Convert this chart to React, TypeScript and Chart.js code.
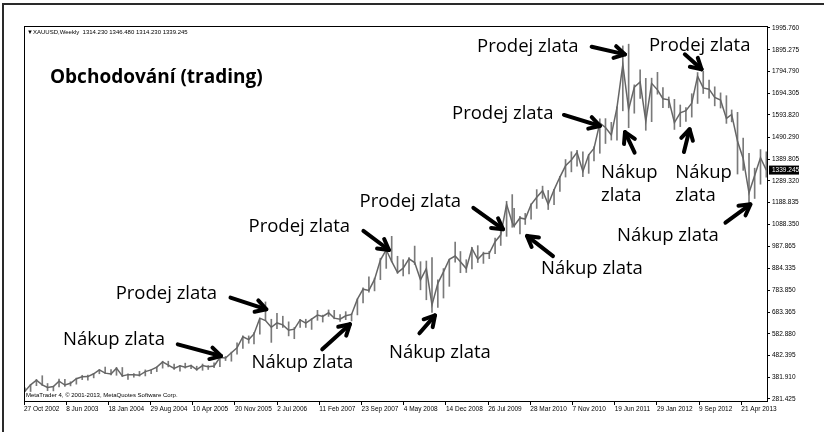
import React, { useEffect, useRef } from 'react';
import { Chart, registerables } from 'chart.js';

Chart.register(...registerables);

// ---------- data (monthly ranges of XAUUSD) ----------
const firstYear = 2002;
const firstMonth = 11; // Nov 2002
const monthCount = 131; // Nov 2002 .. Sep 2013

const highs = [
  333, 349,
  372, 389, 353, 341, 374, 372, 361, 378, 391, 392, 399, 417,
  429, 417, 427, 427, 398, 399, 409, 416, 417, 430, 456, 456,
  443, 437, 447, 438, 433, 443, 436, 449, 474, 478, 498, 541,
  573, 573, 588, 654, 730, 650, 677, 664, 638, 612, 650, 650,
  653, 691, 669, 693, 691, 671, 685, 676, 744, 795, 846, 840,
  932, 976, 1033, 941, 925, 935, 988, 916, 919, 935, 832, 884,
  927, 1007, 963, 925, 982, 990, 960, 964, 1025, 1070, 1195, 1226,
  1162, 1125, 1139, 1183, 1249, 1265, 1245, 1250, 1310, 1388, 1424, 1431,
  1423, 1411, 1447, 1576, 1577, 1560, 1632, 1913, 1921, 1733, 1803, 1763,
  1764, 1791, 1720, 1677, 1666, 1640, 1628, 1692, 1790, 1796, 1755, 1724,
  1696, 1683, 1617, 1606, 1487, 1417, 1348, 1434, 1424,
];

const lows = [
  315, 316,
  343, 344, 320, 319, 337, 340, 342, 350, 371, 368, 379, 398,
  399, 393, 391, 385, 372, 382, 387, 388, 398, 408, 424, 430,
  418, 410, 424, 421, 414, 414, 418, 426, 431, 459, 456, 489,
  515, 539, 536, 581, 643, 543, 606, 612, 573, 560, 612, 612,
  603, 645, 637, 663, 652, 640, 648, 642, 670, 725, 775, 781,
  833, 885, 915, 862, 850, 859, 903, 786, 740, 681, 705, 748,
  802, 914, 865, 866, 882, 912, 908, 930, 953, 991, 1033, 1075,
  1075, 1044, 1088, 1112, 1162, 1208, 1157, 1179, 1241, 1307, 1331, 1357,
  1309, 1324, 1381, 1417, 1462, 1478, 1478, 1613, 1535, 1602, 1670, 1523,
  1563, 1690, 1628, 1627, 1527, 1540, 1564, 1584, 1647, 1693, 1672, 1636,
  1626, 1555, 1562, 1321, 1338, 1180, 1208, 1274, 1306,
];

const closes = [
  317, 347,
  368, 347, 335, 339, 364, 346, 354, 375, 384, 385, 398, 416,
  401, 397, 424, 388, 394, 394, 391, 408, 416, 429, 453, 438,
  423, 435, 428, 436, 417, 436, 430, 434, 473, 471, 495, 518,
  569, 556, 582, 655, 644, 613, 633, 624, 599, 604, 647, 632,
  650, 669, 663, 680, 655, 650, 666, 672, 743, 789, 783, 834,
  923, 971, 917, 866, 886, 929, 912, 832, 884, 716, 816, 869,
  927, 942, 916, 884, 977, 927, 954, 955, 1008, 1040, 1181, 1096,
  1081, 1118, 1113, 1180, 1214, 1244, 1181, 1248, 1307, 1359, 1386, 1421,
  1333, 1410, 1439, 1556, 1536, 1501, 1628, 1826, 1620, 1722, 1746, 1565,
  1740, 1710, 1669, 1664, 1559, 1604, 1614, 1648, 1773, 1719, 1713, 1675,
  1663, 1578, 1596, 1472, 1393, 1234, 1314, 1396, 1339,
];

// x-axis: weekly bar index, labels every 32 bars
const xTickBars = [0, 32, 64, 96, 128, 160, 192, 224, 256, 288, 320, 352, 384, 416, 448, 480, 512, 544];
const xTickLabels = [
  '27 Oct 2002', '8 Jun 2003', '18 Jan 2004', '29 Aug 2004', '10 Apr 2005', '20 Nov 2005',
  '2 Jul 2006', '11 Feb 2007', '23 Sep 2007', '4 May 2008', '14 Dec 2008', '26 Jul 2009',
  '28 Mar 2010', '7 Nov 2010', '19 Jun 2011', '29 Jan 2012', '9 Sep 2012', '21 Apr 2013',
];

const yTickValues = [
  281.425, 381.91, 482.395, 582.88, 683.365, 783.85, 884.335, 987.865, 1088.35,
  1188.835, 1289.32, 1389.805, 1490.29, 1593.82, 1694.305, 1794.79, 1895.275, 1995.76,
];

const headerText = 'XAUUSD,Weekly  1314.230 1346.480 1314.230 1339.245';
const lastPrice = 1339.245;
const copyrightText = 'MetaTrader 4, \u00a9 2001-2013, MetaQuotes Software Corp.';
const titleText = 'Obchodování (trading)';

// annotations, anchored in data space: bar index / price
type Ann = { lines: string[]; bar: number; price: number; from: [number, number]; to: [number, number] };
const annotations: Ann[] = [
  { lines: ['Prodej zlata'], bar: 343.6, price: 1917, from: [430.5, 1909], to: [455.8, 1874] },
  { lines: ['Prodej zlata'], bar: 474.0, price: 1920, from: [501.2, 1874], to: [513.9, 1805] },
  { lines: ['Prodej zlata'], bar: 324.6, price: 1604, from: [409.5, 1594], to: [436.8, 1543] },
  { lines: ['Nákup', 'zlata'], bar: 437.6, price: 1335, from: [463.1, 1420], to: [455.8, 1515] },
  { lines: ['Nákup', 'zlata'], bar: 493.9, price: 1335, from: [500.5, 1423], to: [504.8, 1528] },
  { lines: ['Nákup zlata'], bar: 449.7, price: 1044, from: [532.0, 1096], to: [550.9, 1181] },
  { lines: ['Prodej zlata'], bar: 254.5, price: 1201, from: [340.8, 1165], to: [363.3, 1066] },
  { lines: ['Nákup zlata'], bar: 392.1, price: 888, from: [401.2, 942], to: [381.5, 1035] },
  { lines: ['Prodej zlata'], bar: 170.3, price: 1084, from: [257.4, 1058], to: [276.8, 970] },
  { lines: ['Nákup zlata'], bar: 276.8, price: 503, from: [299.9, 585], to: [311.7, 668] },
  { lines: ['Prodej zlata'], bar: 69.5, price: 773, from: [156.6, 750], to: [183.8, 696] },
  { lines: ['Nákup zlata'], bar: 29.6, price: 562, from: [116.6, 534], to: [149.4, 480] },
  { lines: ['Nákup zlata'], bar: 172.5, price: 457, from: [226.2, 511], to: [247.2, 627] },
];
const titleAnchor = { bar: 19.7, price: 1771 };

// ---------- helpers ----------
function monthLabel(i: number): [number, number] {
  const t = firstMonth - 1 + i;
  return [firstYear + Math.floor(t / 12), (t % 12) + 1];
}
function barIndexOf(y: number, m: number): number {
  const days = (Date.UTC(y, m - 1, 1) - Date.UTC(2002, 9, 27)) / 86400000;
  let w = days / 7;
  if (y >= 2010) w -= 3; // three weekly bars missing in the feed around the 2009/2010 turn
  return w;
}

const monthBars = Array.from({ length: monthCount }, (_, i) => {
  const [y, m] = monthLabel(i);
  return barIndexOf(y, m);
});

const TICK_FONT = { family: 'Liberation Sans', size: 6.5 };
const ANN_FONT = '18.5px "Open Sans"';

function drawArrow(ctx: CanvasRenderingContext2D, x1: number, y1: number, x2: number, y2: number) {
  const ang = Math.atan2(y2 - y1, x2 - x1);
  const head = 12;
  const spread = 0.52;
  ctx.save();
  ctx.strokeStyle = '#000';
  ctx.lineWidth = 4;
  ctx.lineCap = 'round';
  ctx.lineJoin = 'round';
  ctx.beginPath();
  ctx.moveTo(x1, y1);
  ctx.lineTo(x2, y2);
  ctx.stroke();
  ctx.beginPath();
  ctx.moveTo(x2 - head * Math.cos(ang - spread), y2 - head * Math.sin(ang - spread));
  ctx.lineTo(x2, y2);
  ctx.lineTo(x2 - head * Math.cos(ang + spread), y2 - head * Math.sin(ang + spread));
  ctx.stroke();
  ctx.restore();
}

const overlayPlugin = {
  id: 'overlay',
  afterDraw(chart: any) {
    const { ctx, chartArea, scales } = chart;
    const xs = scales.x;
    const ys = scales.y;
    ctx.save();
    // outer frame (left + top)
    ctx.fillStyle = '#2a2a2a';
    ctx.fillRect(2, 3, 2, 429);
    ctx.fillRect(2, 3, 822, 2);
    // inner chart frame
    ctx.strokeStyle = '#000';
    ctx.lineWidth = 1;
    ctx.strokeRect(chartArea.left + 0.5, chartArea.top + 0.5, chartArea.right - chartArea.left, chartArea.bottom - chartArea.top);

    // header
    ctx.fillStyle = '#000';
    ctx.font = '6px "Liberation Sans"';
    ctx.textBaseline = 'middle';
    ctx.textAlign = 'left';
    ctx.fillText('\u25BC', chartArea.left + 3, chartArea.top + 6);
    ctx.fillText(headerText, chartArea.left + 9, chartArea.top + 6);
    // copyright
    ctx.fillText(copyrightText, chartArea.left + 2, chartArea.bottom - 6);

    // last price box
    const py = ys.getPixelForValue(lastPrice);
    ctx.fillStyle = '#000';
    ctx.fillRect(chartArea.right + 2, py - 4.5, 30, 9);
    ctx.fillStyle = '#fff';
    ctx.font = '6.5px "Liberation Sans"';
    ctx.fillText(lastPrice.toFixed(3), chartArea.right + 5, py + 0.5);

    // title
    ctx.fillStyle = '#000';
    ctx.textBaseline = 'alphabetic';
    ctx.font = 'bold 19px "Open Sans"';
    ctx.fillText(titleText, xs.getPixelForValue(titleAnchor.bar), ys.getPixelForValue(titleAnchor.price) + 6.5);

    // annotations
    ctx.font = ANN_FONT;
    for (const a of annotations) {
      const tx = xs.getPixelForValue(a.bar);
      const ty = ys.getPixelForValue(a.price);
      a.lines.forEach((ln, k) => ctx.fillText(ln, tx, ty + 6.6 + k * 23));
      drawArrow(
        ctx,
        xs.getPixelForValue(a.from[0]), ys.getPixelForValue(a.from[1]),
        xs.getPixelForValue(a.to[0]), ys.getPixelForValue(a.to[1]),
      );
    }
    ctx.restore();
  },
};

export default function App() {
  const ref = useRef<HTMLCanvasElement | null>(null);
  useEffect(() => {
    document.body.style.margin = '0';
    const canvas = ref.current!;
    const chart = new Chart(canvas, {
      type: 'bar',
      data: {
        datasets: [
          {
            type: 'line',
            data: monthBars.map((b, i) => ({ x: b, y: closes[i] })),
            borderColor: '#666666',
            borderWidth: 1.5,
            pointRadius: 0,
            tension: 0,
            order: 1,
          } as any,
          {
            type: 'bar',
            data: monthBars.map((b, i) => ({ x: b, y: [lows[i], highs[i]] })),
            backgroundColor: '#7a7a7a',
            barThickness: 1,
            order: 2,
          } as any,
        ],
      },
      options: {
        responsive: false,
        animation: false,
        events: [],
        layout: { padding: { left: 24, top: 26, right: 0, bottom: 0 } },
        plugins: { legend: { display: false }, tooltip: { enabled: false }, title: { display: false } },
        scales: {
          x: {
            type: 'linear',
            min: 0,
            max: 563.5,
            offset: false,
            position: 'bottom',
            grid: { display: true, drawOnChartArea: false, drawTicks: true, tickLength: 4, color: '#000', offset: false },
            border: { display: true, color: '#000' },
            ticks: {
              autoSkip: false,
              maxRotation: 0,
              minRotation: 0,
              align: 'start',
              padding: 0,
              color: '#000',
              font: TICK_FONT,
              callback: (_v: any, i: number) => xTickLabels[i],
            },
            afterBuildTicks: (s: any) => {
              s.ticks = xTickBars.map((v) => ({ value: v }));
            },
            afterFit: (s: any) => {
              s.height = 31;
            },
          },
          y: {
            type: 'linear',
            position: 'right',
            min: 272.18,
            max: 2005,
            grid: { display: true, drawOnChartArea: false, drawTicks: true, tickLength: 3, color: '#000' },
            border: { display: true, color: '#000' },
            ticks: {
              padding: 2,
              color: '#000',
              font: TICK_FONT,
              callback: (v: any) => Number(v).toFixed(3),
            },
            afterBuildTicks: (s: any) => {
              s.ticks = yTickValues.map((v) => ({ value: v }));
            },
            afterFit: (s: any) => {
              s.width = 57;
            },
          },
        },
      } as any,
      plugins: [overlayPlugin],
    });
    return () => chart.destroy();
  }, []);
  return (
    <div style={{ width: 824, height: 432, background: '#fff' }}>
      <canvas ref={ref} width={824} height={432} style={{ display: 'block' }} />
    </div>
  );
}
